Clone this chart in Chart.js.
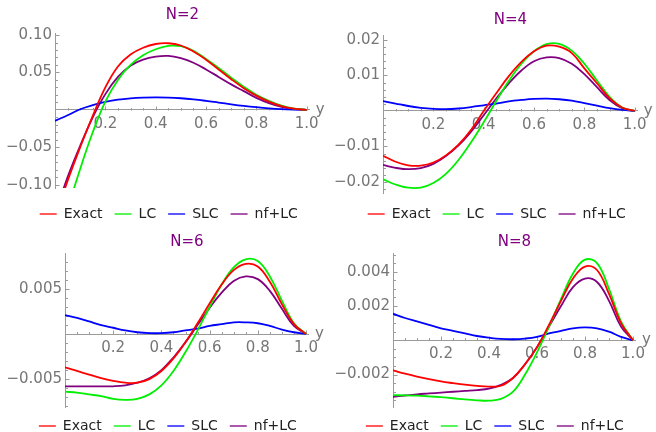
<!DOCTYPE html>
<html>
<head>
<meta charset="utf-8">
<script src="https://cdn.jsdelivr.net/npm/chart.js@4.4.1/dist/chart.umd.min.js"></script>
<style>
  html, body { margin: 0; padding: 0; background: #fff; overflow: hidden; }
  #wrap { position: relative; width: 656px; height: 432px; overflow: hidden; }
  #wrap canvas { position: absolute; }
</style>
</head>
<body>
<div id="wrap">
  <canvas id="n2"></canvas>
  <canvas id="n4"></canvas>
  <canvas id="n6"></canvas>
  <canvas id="n8"></canvas>
</div>
<script>
// sample positions along y (x axis of every panel)
const yPos = [0, 0.05, 0.1, 0.15, 0.2, 0.25, 0.3, 0.35, 0.4, 0.45, 0.5,
              0.55, 0.6, 0.65, 0.7, 0.75, 0.8, 0.85, 0.9, 0.95, 1];

const seriesNames = ["Exact", "LC", "SLC", "nf+LC"];

// N=2
const exact2 = [-0.145, -0.095, -0.050, -0.008, 0.030, 0.058, 0.074, 0.083, 0.088, 0.089, 0.086,
                0.078, 0.067, 0.054, 0.041, 0.029, 0.019, 0.011, 0.005, 0.0015, 0];
const lc2    = [-0.21, -0.135, -0.079, -0.030, 0.011, 0.040, 0.060, 0.073, 0.081, 0.0855, 0.085,
                0.079, 0.068, 0.056, 0.043, 0.031, 0.020, 0.012, 0.0055, 0.0015, 0];
const slc2   = [-0.0147, -0.0072, 0.0008, 0.0063, 0.0105, 0.0135, 0.0153, 0.0163, 0.0167, 0.0164, 0.0155,
                0.0140, 0.0120, 0.0097, 0.0074, 0.0053, 0.0035, 0.0020, 0.0009, 0.0003, 0];
const nf2    = [-0.14, -0.090, -0.048, -0.010, 0.021, 0.044, 0.059, 0.067, 0.071, 0.072, 0.069,
                0.063, 0.054, 0.044, 0.034, 0.025, 0.016, 0.009, 0.004, 0.001, 0];

// N=4
const exact4 = [-0.0126, -0.0143, -0.0153, -0.0154, -0.0145, -0.0125, -0.0095, -0.0053, 0.0000, 0.0050, 0.0098,
                0.0138, 0.0168, 0.0184, 0.0181, 0.0163, 0.0120, 0.0078, 0.0036, 0.0010, 0];
const lc4    = [-0.0192, -0.0207, -0.0216, -0.0216, -0.0203, -0.0177, -0.0138, -0.0088, -0.0032, 0.0028, 0.0085,
                0.0133, 0.0168, 0.0188, 0.0189, 0.0170, 0.0133, 0.0086, 0.0040, 0.0010, 0];
const slc4   = [0.0028, 0.0021, 0.0014, 0.0009, 0.0006, 0.0005, 0.0007, 0.0011, 0.0016, 0.0021, 0.0027,
                0.0031, 0.0034, 0.0035, 0.0033, 0.0029, 0.0022, 0.0015, 0.0008, 0.0003, 0];
const nf4    = [-0.0152, -0.0160, -0.0164, -0.0161, -0.0149, -0.0127, -0.0097, -0.0058, -0.0012, 0.0035, 0.0078,
                0.0114, 0.0140, 0.0151, 0.0149, 0.0133, 0.0104, 0.0067, 0.0031, 0.0008, 0];

// N=6
const exact6 = [-0.0037, -0.0041, -0.0045, -0.0049, -0.0052, -0.0054, -0.0054, -0.0050, -0.0041, -0.0027, -0.0009,
                0.0012, 0.0034, 0.0055, 0.0071, 0.0078, 0.0075, 0.0058, 0.0033, 0.0011, 0];
const lc6    = [-0.0064, -0.0065, -0.0067, -0.0069, -0.0072, -0.0073, -0.0072, -0.0067, -0.0057, -0.0041, -0.0020,
                0.0004, 0.0030, 0.0055, 0.0074, 0.0083, 0.0081, 0.0064, 0.0037, 0.0012, 0];
const slc6   = [0.0021, 0.0018, 0.0014, 0.0010, 0.0007, 0.0004, 0.0002, 0.0001, 0.0001, 0.0002, 0.0004,
                0.0006, 0.0009, 0.0011, 0.0013, 0.0013, 0.0012, 0.0009, 0.0005, 0.0002, 0];
const nf6    = [-0.0058, -0.0058, -0.0058, -0.0058, -0.0058, -0.0057, -0.0054, -0.0049, -0.0040, -0.0026, -0.0009,
                0.0010, 0.0029, 0.0046, 0.0059, 0.0064, 0.0061, 0.0048, 0.0028, 0.0009, 0];

// N=8
const exact8 = [-0.00175, -0.00195, -0.00212, -0.00227, -0.0024, -0.0025, -0.00259, -0.00266, -0.0027, -0.00265, -0.0022,
                -0.0014, -0.0004, 0.0009, 0.0023, 0.0036, 0.0043, 0.0041, 0.0027, 0.0010, 0];
const lc8    = [-0.0032, -0.00321, -0.00323, -0.00327, -0.00332, -0.00338, -0.00345, -0.0035, -0.00352, -0.00342, -0.0030,
                -0.0020, -0.0007, 0.0008, 0.0024, 0.0039, 0.0047, 0.0045, 0.0030, 0.0011, 0];
const slc8   = [0.00155, 0.0013, 0.0011, 0.0009, 0.0007, 0.00055, 0.0004, 0.00025, 0.00015, 0.00008, 0.00006,
                0.0001, 0.0002, 0.0004, 0.00055, 0.0007, 0.00075, 0.0007, 0.0005, 0.0002, 0];
const nf8    = [-0.0033, -0.00322, -0.00315, -0.0031, -0.00305, -0.0030, -0.00295, -0.0029, -0.00282, -0.0026, -0.0022,
                -0.0014, -0.0004, 0.0008, 0.0020, 0.0031, 0.0036, 0.0034, 0.0023, 0.0008, 0];

const lineColors   = ["#ff0000", "#00ee00", "#0000ff", "#800080"];
const legendColors = ["rgba(255,0,0,0.65)", "rgba(0,238,0,0.65)", "rgba(0,0,255,0.65)", "rgba(128,0,128,0.65)"];
const axisColor = "#9a9a9a";
const tickTextColor = "#767676";
const legendTextColor = "#222";
const font = "DejaVu Sans";

const panels = [
  { id: "n2", title: "N=2", left: 0,   top: 0,   height: 231, axisLeft: 55, pxPerUnit: 251.7,
    yMin: -0.1045, yMax: 0.1027, yStep: 0.05, yMinor: 0.01, digits: 2,
    titlePad: { top: 6, bottom: 9 }, legendGap: 7, series: [exact2, lc2, slc2, nf2] },
  { id: "n4", title: "N=4", left: 328, top: 0,   height: 231, axisLeft: 55, pxPerUnit: 251.7,
    yMin: -0.0231, yMax: 0.0214, yStep: 0.01, yMinor: 0.002, digits: 2,
    titlePad: { top: 11, bottom: 6 }, legendGap: 2, series: [exact4, lc4, slc4, nf4] },
  { id: "n6", title: "N=6", left: 0,   top: 222, height: 221, axisLeft: 65, pxPerUnit: 241,
    yMin: -0.0081, yMax: 0.0090, yStep: 0.005, yMinor: 0.001, digits: 3,
    titlePad: { top: 11, bottom: 2 }, legendGap: 0, series: [exact6, lc6, slc6, nf6] },
  { id: "n8", title: "N=8", left: 328, top: 222, height: 221, axisLeft: 65, pxPerUnit: 240,
    yMin: -0.00389, yMax: 0.00509, yStep: 0.002, yMinor: 0.0005, digits: 3,
    titlePad: { top: 11, bottom: 2 }, legendGap: 0, series: [exact8, lc8, slc8, nf8] },
];

const X_MAX = 1.012;
const WIDTH = 328;

// Mathematica-like axes: inward major/minor ticks and the "y" label
const axisDecor = {
  id: "axisDecor",
  beforeDatasetsDraw(chart, args, opts) {
    const { ctx, chartArea, scales: { x, y } } = chart;
    const y0 = Math.round(y.getPixelForValue(0)) + 0.5;
    const xl = Math.round(chartArea.left) + 0.5;
    ctx.save();
    ctx.strokeStyle = axisColor;
    ctx.lineWidth = 1;
    ctx.beginPath();
    const xStep = 0.05;
    for (let i = 1; i * xStep <= x.max + 1e-9; i++) {
      const px = Math.round(x.getPixelForValue(i * xStep)) + 0.5;
      const len = i % 4 === 0 ? 4 : 2.5;
      ctx.moveTo(px, y0);
      ctx.lineTo(px, y0 - len);
    }
    const ratio = Math.round(opts.major / opts.minor);
    for (let i = Math.ceil(y.min / opts.minor); i * opts.minor <= y.max; i++) {
      if (i === 0) continue;
      const py = Math.round(y.getPixelForValue(i * opts.minor)) + 0.5;
      const len = i % ratio === 0 ? 4 : 2.5;
      ctx.moveTo(xl, py);
      ctx.lineTo(xl + len, py);
    }
    ctx.stroke();
    ctx.fillStyle = tickTextColor;
    ctx.font = "15px '" + font + "'";
    ctx.textBaseline = "alphabetic";
    ctx.textAlign = "left";
    ctx.fillText("y", chartArea.right + 6, y0 + 3);
    ctx.restore();
  }
};

function fmt(v, digits) {
  if (Math.abs(v) < 1e-12) return "";
  return (v < 0 ? "\u2212" : "") + Math.abs(v).toFixed(digits);
}

panels.forEach((p) => {
  const canvas = document.getElementById(p.id);
  canvas.width = WIDTH;
  canvas.height = p.height;
  canvas.style.left = p.left + "px";
  canvas.style.top = p.top + "px";

  const padRight = WIDTH - p.axisLeft - X_MAX * p.pxPerUnit;

  const datasets = p.series.map((vals, i) => ({
    label: seriesNames[i],
    data: yPos.map((v, j) => ({ x: v, y: vals[j] })),
    borderColor: lineColors[i],
    borderWidth: 1.8,
    pointRadius: 0,
    fill: false,
    tension: 0.4,
  }));

  new Chart(canvas, {
    type: "line",
    data: { datasets },
    options: {
      responsive: false,
      animation: false,
      events: [],
      layout: { padding: { left: 0, right: padRight, top: 0, bottom: 0 } },
      scales: {
        x: {
          type: "linear",
          position: { y: 0 },
          min: 0,
          max: X_MAX,
          grid: { display: false, drawTicks: false },
          border: { display: true, color: axisColor, width: 1 },
          ticks: {
            stepSize: 0.2,
            includeBounds: false,
            autoSkip: false,
            maxRotation: 0,
            padding: 5,
            color: tickTextColor,
            font: { family: font, size: 15 },
            callback: (v) => fmt(v, 1),
          },
        },
        y: {
          type: "linear",
          position: "left",
          min: p.yMin,
          max: p.yMax,
          grid: { display: false, drawTicks: false },
          border: { display: true, color: axisColor, width: 1 },
          ticks: {
            stepSize: p.yStep,
            includeBounds: false,
            autoSkip: false,
            padding: 3,
            color: tickTextColor,
            font: { family: font, size: 15 },
            callback: (v) => fmt(v, p.digits),
          },
          afterFit: (scale) => { scale.width = p.axisLeft; },
        },
      },
      plugins: {
        axisDecor: { major: p.yStep, minor: p.yMinor },
        title: {
          display: true,
          text: p.title,
          fullSize: false,
          color: "#800080",
          font: { family: font, size: 15, weight: "normal" },
          padding: p.titlePad,
        },
        legend: {
          display: true,
          position: "bottom",
          align: "end",
          title: {
            display: p.legendGap > 0,
            text: "",
            color: legendTextColor,
            font: { size: 1, lineHeight: 1 },
            padding: { top: Math.max(p.legendGap - 1, 0), bottom: 0 },
          },
          labels: {
            usePointStyle: true,
            pointStyleWidth: 17,
            padding: 12,
            color: legendTextColor,
            font: { family: font, size: 14 },
            generateLabels: (chart) => chart.data.datasets.map((ds, i) => ({
              text: ds.label,
              fontColor: legendTextColor,
              strokeStyle: legendColors[i],
              fillStyle: legendColors[i],
              lineWidth: 2,
              pointStyle: "line",
              hidden: false,
              datasetIndex: i,
            })),
          },
        },
        tooltip: { enabled: false },
      },
    },
    plugins: [axisDecor],
  });
});
</script>
</body>
</html>
